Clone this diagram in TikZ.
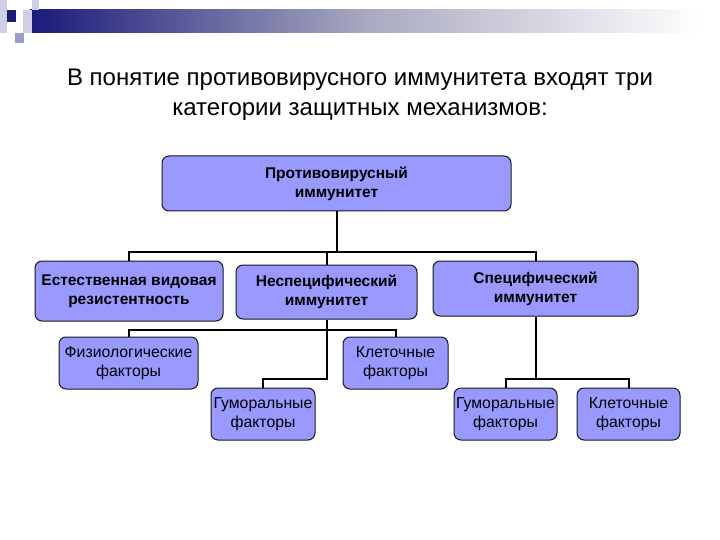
\documentclass[tikz,border=0pt]{standalone}
\usepackage{fontspec}
\setmainfont{Liberation Sans}
\definecolor{boxfill}{HTML}{9999FF}
\definecolor{navy}{HTML}{1A1A7A}
\definecolor{midgray}{HTML}{A8A8C0}
\definecolor{lav}{HTML}{9C9CCC}
\definecolor{lightlav}{HTML}{D0D0E4}
\begin{document}
\begin{tikzpicture}[x=1pt,y=-1pt,
  box/.style={draw=black!90, line width=1pt, fill=boxfill, rounded corners=7pt, align=center, inner sep=0pt},
  bb/.style={box, font=\bfseries\fontsize{15.5}{19}\selectfont},
  rb/.style={box, font=\fontsize{15.8}{19}\selectfont},
  conn/.style={line width=2pt, black}]
\useasboundingbox[fill=white] (0,0) rectangle (720,540);
% header decoration
\shade[left color=navy, right color=white, middle color=midgray] (30,10) rectangle (700,33);
\fill[lightlav] (0,0) rectangle (7,33);
\fill[lightlav] (32,0) rectangle (39,10);
\fill[lightlav] (23,10) rectangle (32,33);
\fill[navy] (7,10) rectangle (16,22);
\fill[lav] (15,33) rectangle (24,43);
% title
\node[font=\fontsize{24}{30}\selectfont, align=center] (title) at (360,95)
  {В понятие противовирусного иммунитета входят три\\категории защитных механизмов:};
% boxes
\node[bb, minimum width=349pt, minimum height=55pt] (top) at (336.5,183.5) {Противовирусный\\иммунитет};
\node[bb, minimum width=188pt, minimum height=60pt] (left) at (129,291) {Естественная видовая\\резистентность};
\node[bb, minimum width=181pt, minimum height=54pt] (mid) at (326.5,292) {Неспецифический\\иммунитет};
\node[bb, minimum width=205pt, minimum height=55pt] (right) at (535.5,288.5) {Специфический\\иммунитет};
\node[rb, minimum width=139pt, minimum height=52pt] (fiz) at (128.5,363) {Физиологические\\факторы};
\node[rb, minimum width=105pt, minimum height=52pt] (klet1) at (395.5,363) {Клеточные\\факторы};
\node[rb, minimum width=104pt, minimum height=52pt] (gum1) at (263,414) {Гуморальные\\факторы};
\node[rb, minimum width=103pt, minimum height=52pt] (gum2) at (505.5,414) {Гуморальные\\факторы};
\node[rb, minimum width=103pt, minimum height=52pt] (klet2) at (628.5,414) {Клеточные\\факторы};
% connectors
\coordinate (bar1) at (0,252);
\coordinate (bar2) at (0,330);
\coordinate (bar3) at (0,379);
\draw[conn] (left.north) -- (left.north |- bar1) -- (right.north |- bar1) -- (right.north);
\draw[conn] (top.south) -- (top.south |- bar1);
\draw[conn] (mid.north) -- (mid.north |- bar1);
\draw[conn] (fiz.north) -- (fiz.north |- bar2) -- (klet1.north |- bar2) -- (klet1.north);
\draw[conn] (mid.south) -- (mid.south |- bar3) -| (gum1.north);
\draw[conn] (right.south) -- (right.south |- bar3);
\draw[conn] (gum2.north) -- (gum2.north |- bar3) -- (klet2.north |- bar3) -- (klet2.north);
\end{tikzpicture}
\end{document}
